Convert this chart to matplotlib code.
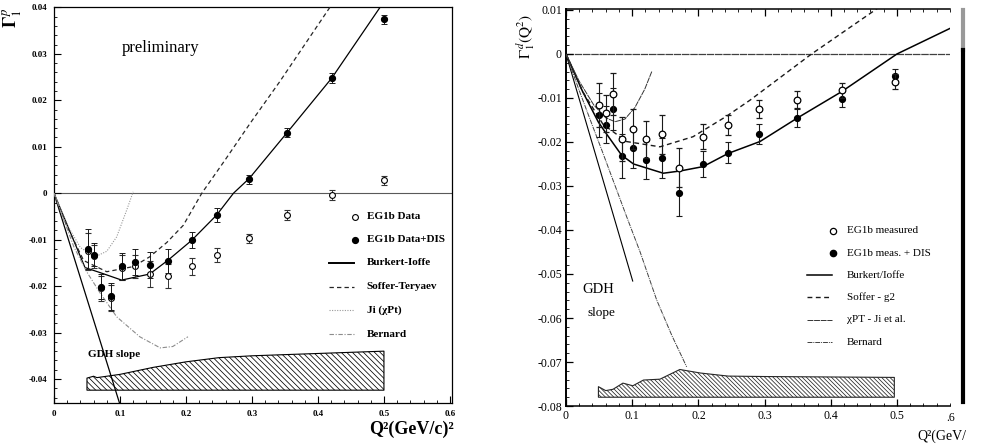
"""
Gamma_1 for proton (left) and deuteron (right) vs Q^2, EG1b data with model curves.
"""

import matplotlib
matplotlib.use("Agg")
import matplotlib.pyplot as plt
from matplotlib.lines import Line2D
from matplotlib.ticker import MultipleLocator

plt.rcParams["font.family"] = ["Liberation Serif", "DejaVu Serif"]
plt.rcParams["mathtext.fontset"] = "stix"
plt.rcParams["hatch.linewidth"] = 0.55

# ─── proton (left panel) ────────────────────────────────────────────────────
q2_p = [0.052, 0.061, 0.072, 0.086, 0.1025, 0.1227, 0.1455, 0.173, 0.209, 0.2465,
        0.296, 0.353, 0.421, 0.500]
g1p_dis = [-0.0121, -0.0132, -0.0201, -0.0222, -0.0157, -0.0148, -0.0155, -0.0146,
           -0.0101, -0.0047, 0.0030, 0.0130, 0.0248, 0.0374]
g1p_dis_err = [0.0043, 0.0025, 0.0027, 0.0029, 0.0029, 0.0027, 0.0028, 0.0025,
               0.0018, 0.0015, 0.0010, 0.0010, 0.0010, 0.0010]
g1p_meas = [-0.0125, -0.0136, -0.0205, -0.0226, -0.0160, -0.0157, -0.0174, -0.0178,
            -0.0157, -0.0133, -0.0097, -0.0047, -0.0004, 0.0028]
g1p_meas_err = [0.0040, 0.0024, 0.0026, 0.0028, 0.0026, 0.0025, 0.0028, 0.0026,
                0.0018, 0.0015, 0.0010, 0.0010, 0.0010, 0.0010]

bi_p_x = [0, 0.02, 0.047, 0.07, 0.1025, 0.145, 0.173, 0.209, 0.2465, 0.272, 0.296,
          0.353, 0.421, 0.494]
bi_p_y = [0, -0.0068, -0.0160, -0.0171, -0.0187, -0.0174, -0.0144, -0.0101, -0.0047,
          0.0, 0.0032, 0.0130, 0.0248, 0.0400]
st_p_x = [0, 0.02, 0.045, 0.08, 0.12, 0.145, 0.171, 0.196, 0.224, 0.259, 0.297, 0.342, 0.418]
st_p_y = [0, -0.0072, -0.0145, -0.0169, -0.0158, -0.0137, -0.0106, -0.0069, 0.0,
          0.0071, 0.0150, 0.0240, 0.0400]
ji_p_x = [0, 0.02, 0.04, 0.062, 0.08, 0.095, 0.11, 0.12]
ji_p_y = [0, -0.0068, -0.0117, -0.0137, -0.0125, -0.0094, -0.0037, 0.0003]
bern_p_x = [0, 0.03, 0.05, 0.07, 0.095, 0.13, 0.161, 0.18, 0.191, 0.203]
bern_p_y = [0, -0.0115, -0.0170, -0.0215, -0.0266, -0.0309, -0.0333, -0.0330, -0.0320, -0.0309]
gdh_p_x = [0, 0.1]
gdh_p_y = [0, -0.0455]

sys_p_x = [0.05, 0.055, 0.06, 0.065, 0.07, 0.1, 0.15, 0.2, 0.25, 0.3, 0.4, 0.5]
sys_p_top = [-0.0398, -0.0396, -0.0394, -0.0397, -0.0396, -0.0390, -0.0375, -0.0363,
             -0.0354, -0.0350, -0.0345, -0.0340]
sys_p_bottom = -0.0424

# ─── deuteron (right panel) ─────────────────────────────────────────────────
q2_d = [0.0498, 0.0604, 0.0705, 0.0841, 0.1017, 0.1208, 0.1446, 0.1712, 0.2065, 0.2452,
        0.292, 0.349, 0.4165, 0.497]
g1d_meas = [-0.0116, -0.0135, -0.0091, -0.0194, -0.0171, -0.0194, -0.0183, -0.0258,
            -0.0188, -0.0161, -0.0125, -0.0104, -0.0083, -0.0063]
g1d_meas_err = [0.0049, 0.0042, 0.0047, 0.0050, 0.0045, 0.0042, 0.0045, 0.0045,
                0.0028, 0.0023, 0.0021, 0.0019, 0.0017, 0.0017]
g1d_dis = [-0.0139, -0.0161, -0.0125, -0.0232, -0.0214, -0.0241, -0.0237, -0.0315,
           -0.0250, -0.0224, -0.0182, -0.0146, -0.0102, -0.0050]
g1d_dis_err = [0.0050, 0.0042, 0.0047, 0.0050, 0.0045, 0.0043, 0.0045, 0.0053,
               0.0030, 0.0024, 0.0022, 0.0020, 0.0019, 0.0016]

bi_d_x = [0, 0.025, 0.049, 0.059, 0.084, 0.102, 0.147, 0.172, 0.207, 0.245, 0.293,
          0.349, 0.416, 0.50, 0.58]
bi_d_y = [0, -0.0085, -0.0155, -0.0177, -0.0230, -0.0250, -0.0271, -0.0266, -0.0256,
          -0.0226, -0.0199, -0.0146, -0.0086, 0.0, 0.0058]
st_d_x = [0, 0.025, 0.056, 0.0915, 0.142, 0.192, 0.242, 0.278, 0.371, 0.47]
st_d_y = [0, -0.0085, -0.0160, -0.0199, -0.0211, -0.0188, -0.0142, -0.0105, 0.0, 0.0103]
ji_d_x = [0, 0.02, 0.042, 0.06, 0.074, 0.089, 0.104, 0.119, 0.1296]
ji_d_y = [0, -0.0062, -0.0116, -0.0145, -0.0154, -0.0148, -0.0122, -0.0080, -0.0040]
bern_d_x = [0, 0.02, 0.04, 0.054, 0.0917, 0.112, 0.137, 0.16, 0.1823]
bern_d_y = [0, -0.0083, -0.0163, -0.0218, -0.0370, -0.0450, -0.0559, -0.0640, -0.0711]
gdh_d_x = [0, 0.1008]
gdh_d_y = [0, -0.0516]

sys_d_x = [0.049, 0.06, 0.071, 0.086, 0.101, 0.117, 0.142, 0.172, 0.203, 0.245, 0.3,
           0.4, 0.496]
sys_d_top = [-0.0756, -0.0765, -0.0762, -0.0748, -0.0754, -0.0741, -0.0739, -0.0717,
             -0.0725, -0.0732, -0.0733, -0.0734, -0.0735]
sys_d_bottom = -0.0780

labels_p = ["EG1b Data", "EG1b Data+DIS", "Burkert-Ioffe", "Soffer-Teryaev",
            "Ji (χPt)", "Bernard"]
labels_d = ["EG1b measured", "EG1b meas. + DIS", "Burkert/Ioffe", "Soffer - g2",
            "χPT - Ji et al.", "Bernard"]

fig = plt.figure(figsize=(9.85, 4.45), dpi=100)
axL = fig.add_axes([0.0548, 0.0944, 0.404, 0.890])
axR = fig.add_axes([0.5746, 0.0876, 0.3898, 0.892])

# styles: (linestyle, color, lw)
sty_p = {
    "bi": ("-", "black", 0.9),
    "st": ((0, (3.5, 2.5)), "0.15", 0.9),
    "ji": ((0, (1, 1.3)), "0.6", 0.8),
    "bern": ((0, (4, 1.5, 1, 1.5)), "0.55", 0.8),
}
sty_d = {
    "bi": ("-", "black", 1.1),
    "st": ((0, (3.5, 2.5)), "0.1", 1.0),
    "ji": ((0, (6, 0.8)), "0.2", 0.7),
    "bern": ((0, (5, 1, 1, 1)), "0.25", 0.7),
}

# ─── left panel ─────────────────────────────────────────────────────────────
ax = axL
ax.axhline(0, color="0.35", lw=0.8, zorder=1)
ax.fill_between(sys_p_x, sys_p_bottom, sys_p_top, facecolor="white", edgecolor="black",
                hatch="\\" * 6, linewidth=0.8, zorder=2)
ax.plot(gdh_p_x, gdh_p_y, color="black", lw=0.9, zorder=3)
for key, (xs, ys) in {"bi": (bi_p_x, bi_p_y), "st": (st_p_x, st_p_y),
                      "ji": (ji_p_x, ji_p_y), "bern": (bern_p_x, bern_p_y)}.items():
    ls, c, lw = sty_p[key]
    ax.plot(xs, ys, linestyle=ls, color=c, lw=lw, zorder=3)
ax.errorbar(q2_p, g1p_meas, yerr=g1p_meas_err, fmt="o", ms=4.2, mfc="white", mec="black",
            mew=0.8, ecolor="0.2", elinewidth=0.7, capsize=2, capthick=0.7, zorder=4)
ax.errorbar(q2_p, g1p_dis, yerr=g1p_dis_err, fmt="o", ms=4.2, mfc="black", mec="black",
            ecolor="0.1", elinewidth=0.7, capsize=2, capthick=0.7, zorder=5)

ax.set_xlim(0, 0.603)
ax.set_ylim(-0.04516, 0.0401)
ax.set_xticks([0, 0.1, 0.2, 0.3, 0.4, 0.5, 0.6],
              ["0", "0.1", "0.2", "0.3", "0.4", "0.5", "0.6"], fontsize=6.5, fontweight="bold")
ax.set_yticks([-0.04, -0.03, -0.02, -0.01, 0, 0.01, 0.02, 0.03, 0.04],
              ["-0.04", "-0.03", "-0.02", "-0.01", "0", "0.01", "0.02", "0.03", "0.04"],
              fontsize=6.5, fontweight="bold")
ax.xaxis.set_minor_locator(MultipleLocator(0.02))
ax.yaxis.set_minor_locator(MultipleLocator(0.002))
ax.tick_params(which="both", direction="in", top=False, right=False)
ax.tick_params(which="major", length=5, width=0.8, pad=5)
ax.tick_params(which="minor", length=2.5, width=0.6)
for s in ax.spines.values():
    s.set_linewidth(0.9)

ax.text(0.103, 0.0312, "preliminary", fontsize=12, va="center", ha="left")
ax.text(0.052, -0.0347, "GDH slope", fontsize=8, fontweight="bold", va="center", ha="left")

# legend drawn by hand
leg_y = [0.470, 0.412, 0.354, 0.293, 0.235, 0.174]
ax.plot([0.756], [leg_y[0]], "o", ms=4.2, mfc="white", mec="black", mew=0.8,
        transform=ax.transAxes, clip_on=False)
ax.plot([0.756], [leg_y[1]], "o", ms=4.2, mfc="black", mec="black",
        transform=ax.transAxes, clip_on=False)
for yy, key in zip(leg_y[2:], ["bi", "st", "ji", "bern"]):
    ls, c, lw = sty_p[key]
    ax.plot([0.691, 0.754], [yy, yy], linestyle=ls, color=c,
            lw=lw + (0.5 if key == "bi" else 0), transform=ax.transAxes)
for yy, lab in zip(leg_y, labels_p):
    ax.text(0.786, yy, lab, fontsize=8, fontweight="bold", va="center", ha="left",
            transform=ax.transAxes)

fig.text(12 / 985, 1 - 18 / 445, r"$\mathbf{\Gamma}_1^{\,p}$", rotation=90, fontsize=13,
         ha="center", va="center")
fig.text(411 / 985, 1 - 429 / 445, "Q²(GeV/c)²", fontsize=13, fontweight="bold",
         ha="center", va="center")

# ─── right panel ────────────────────────────────────────────────────────────
ax = axR
ax.axhline(0, color="0.25", lw=0.9, linestyle=(0, (6, 0.6)), zorder=1)
ax.fill_between(sys_d_x, sys_d_bottom, sys_d_top, facecolor="white", edgecolor="0.15",
                hatch="\\" * 8, linewidth=0.8, zorder=2)
ax.plot(gdh_d_x, gdh_d_y, color="black", lw=0.8, zorder=3)
for key, (xs, ys) in {"bi": (bi_d_x, bi_d_y), "st": (st_d_x, st_d_y),
                      "ji": (ji_d_x, ji_d_y), "bern": (bern_d_x, bern_d_y)}.items():
    ls, c, lw = sty_d[key]
    ax.plot(xs, ys, linestyle=ls, color=c, lw=lw, zorder=3)
ax.errorbar(q2_d, g1d_dis, yerr=g1d_dis_err, fmt="o", ms=4.2, mfc="black", mec="black",
            ecolor="0.1", elinewidth=0.8, capsize=2, capthick=0.8, zorder=4)
ax.errorbar(q2_d, g1d_meas, yerr=g1d_meas_err, fmt="o", ms=4.8, mfc="white", mec="black",
            mew=0.9, ecolor="0.1", elinewidth=0.8, capsize=2, capthick=0.8, zorder=5)

ax.set_xlim(0, 0.58)
ax.set_ylim(-0.080, 0.0102)
ax.set_xticks([0, 0.1, 0.2, 0.3, 0.4, 0.5], ["0", "0.1", "0.2", "0.3", "0.4", "0.5"],
              fontsize=8.5)
ax.set_yticks([-0.08, -0.07, -0.06, -0.05, -0.04, -0.03, -0.02, -0.01, 0, 0.01],
              ["-0.08", "-0.07", "-0.06", "-0.05", "-0.04", "-0.03", "-0.02", "-0.01",
               "0", "0.01"], fontsize=8.5)
ax.xaxis.set_minor_locator(MultipleLocator(0.02))
ax.yaxis.set_minor_locator(MultipleLocator(0.002))
ax.tick_params(which="both", direction="in", top=True, right=False)
ax.tick_params(which="major", length=5, width=0.9, pad=3)
ax.tick_params(which="minor", length=2.5, width=0.6)
ax.spines["right"].set_visible(False)
ax.spines["left"].set_linewidth(1.4)
ax.spines["bottom"].set_linewidth(1.1)
ax.spines["top"].set_linewidth(1.1)

ax.text(0.0244, -0.0536, "GDH", fontsize=10.5, va="center", ha="left")
ax.text(0.032, -0.0589, "slope", fontsize=9.5, va="center", ha="left")

leg_y = [0.441, 0.385, 0.330, 0.275, 0.217, 0.161]
ax.plot([0.695], [leg_y[0]], "o", ms=4.5, mfc="white", mec="black", mew=0.9,
        transform=ax.transAxes, clip_on=False)
ax.plot([0.695], [leg_y[1]], "o", ms=4.5, mfc="black", mec="black",
        transform=ax.transAxes, clip_on=False)
for yy, key in zip(leg_y[2:], ["bi", "st", "ji", "bern"]):
    ls, c, lw = sty_d[key]
    ax.plot([0.628, 0.693], [yy, yy], linestyle=ls, color=c, lw=lw, transform=ax.transAxes)
for yy, lab in zip(leg_y, labels_d):
    ax.text(0.732, yy, lab, fontsize=8, va="center", ha="left", transform=ax.transAxes)

fig.text(526 / 985, 1 - 36 / 445, r"$\Gamma_1^{\,d}(\mathrm{Q}^2)$", rotation=90, fontsize=11,
         ha="center", va="center")
fig.text(917 / 985, 1 - 436 / 445, "Q²(GeV/", fontsize=10, ha="left", va="center")
fig.text(946 / 985, 1 - 418 / 445, ".6", fontsize=8.5, ha="left", va="center")

# scanner edge on the right
fig.add_artist(Line2D([963 / 985] * 2, [1 - 10 / 445, 1 - 50 / 445], color="0.6", lw=3))
fig.add_artist(Line2D([963 / 985] * 2, [1 - 50 / 445, 1 - 402 / 445], color="black", lw=3))

fig.savefig("out.png", dpi=100)
